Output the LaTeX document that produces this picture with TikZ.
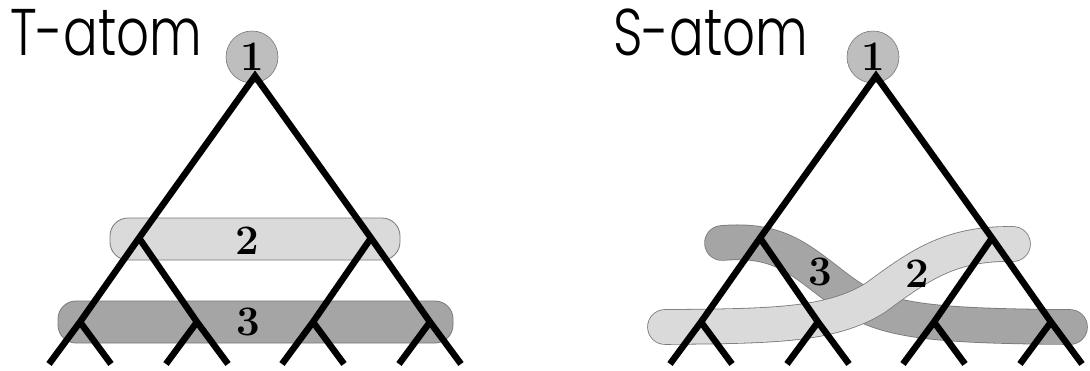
\documentclass[tikz,border=0pt]{standalone}
\usepackage{fontspec}
\newfontfamily\titlefont{Poppins Light}[FakeStretch=0.78]
\definecolor{bandlight}{RGB}{218,218,218}
\definecolor{banddark}{RGB}{165,165,165}
\definecolor{rootgray}{RGB}{190,190,190}
\definecolor{rimgray}{RGB}{120,120,120}
\tikzset{
  branch/.style={line width=6.5pt, line join=miter, color=black},
  level/.style={draw=rimgray, line width=0.8pt, rounded corners=18pt},
  twist/.style={line width=34pt, line cap=round,
    preaction={draw=rimgray, line width=35.6pt, line cap=round}},
  root/.style={circle, draw=rimgray, fill=rootgray, line width=0.6pt,
    minimum size=52pt, inner sep=0pt, font=\fontsize{42}{46}\selectfont\bfseries},
  tag/.style={inner sep=0pt, font=\fontsize{42}{46}\selectfont\bfseries},
  title/.style={anchor=base west, inner sep=0pt, font=\titlefont\fontsize{66}{70}\selectfont}
}

\begin{document}
\begin{tikzpicture}[x=1pt, y=-1pt]
  \useasboundingbox (0,0) rectangle (1090,370);

  % T-atom: straight levels
  \draw[level, fill=bandlight] (110,218) rectangle (400,260);
  \draw[level, fill=banddark] (58,301) rectangle (453,343);
  \node[tag] (T-two) at (247,241) {2};
  \node[tag] (T-three) at (248,322) {3};

  % S-atom: twisted levels
  \draw[twist, draw=banddark] (722,243) .. controls (780,238) and (800,260) .. (840,290)
    .. controls (880,320) and (920,326) .. (1070,327);
  \draw[twist, draw=bandlight] (665,327) .. controls (770,326) and (830,326) .. (875,298)
    .. controls (920,265) and (950,243) .. (1013,244);
  \node[tag] (S-three) at (820,272) {3};
  \node[tag] (S-two) at (917,274) {2};

  % both trees
  \foreach \x/\name/\tx in {255/T/10, 876/S/613}{
    \node[title] (\name-title) at (\tx,55) {\name-atom};
    \node[root] (\name-one) at (\x-3,57) {1};
    \coordinate (\name-r) at (\x,76);
    \coordinate (\name-a) at (\x-116,238);
    \coordinate (\name-b) at (\x+116,238);
    \coordinate (\name-aa) at (\x-175,322);
    \coordinate (\name-ab) at (\x-58,322);
    \coordinate (\name-ba) at (\x+58,322);
    \coordinate (\name-bb) at (\x+175,322);
    \coordinate (\name-aaa) at (\x-206,364);
    \coordinate (\name-aab) at (\x-144,364);
    \coordinate (\name-aba) at (\x-89,364);
    \coordinate (\name-abb) at (\x-27,364);
    \coordinate (\name-baa) at (\x+27,364);
    \coordinate (\name-bab) at (\x+89,364);
    \coordinate (\name-bba) at (\x+144,364);
    \coordinate (\name-bbb) at (\x+206,364);
    \draw[branch] (\name-aaa) -- (\name-aa) -- (\name-a) -- (\name-r)
      -- (\name-b) -- (\name-bb) -- (\name-bbb);
    \draw[branch] (\name-a) -- (\name-ab) -- (\name-abb);
    \draw[branch] (\name-b) -- (\name-ba) -- (\name-baa);
    \draw[branch] (\name-aa) -- (\name-aab);
    \draw[branch] (\name-aba) -- (\name-ab);
    \draw[branch] (\name-ba) -- (\name-bab);
    \draw[branch] (\name-bba) -- (\name-bb);
  }
\end{tikzpicture}
\end{document}
